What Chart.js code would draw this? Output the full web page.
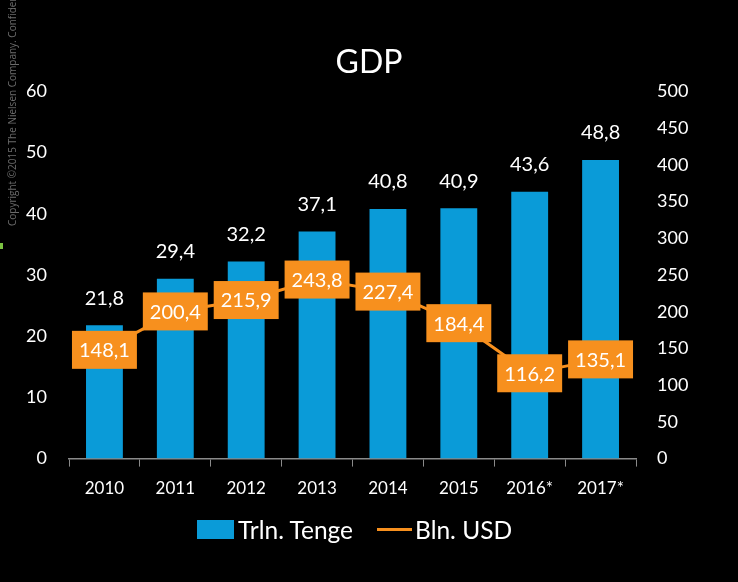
<!DOCTYPE html>
<html>
<head>
<meta charset="utf-8">
<script src="https://cdn.jsdelivr.net/npm/chart.js@4/dist/chart.umd.min.js"></script>
<style>
  html, body { margin: 0; padding: 0; background: #000; }
  #wrap { position: relative; width: 738px; height: 582px; overflow: hidden; }
  #copy {
    position: absolute; left: 12px; top: 0; width: 0; height: 0;
    font: 10px "Open Sans", sans-serif; color: #6b6b6b; white-space: nowrap;
  }
  #copy span {
    position: absolute; left: 0; top: 226px;
    transform-origin: 0 0; transform: rotate(-90deg) translateY(-7px);
  }
  #mark { position: absolute; left: 0; top: 243px; width: 3px; height: 6px; background: #7cc242; }
  #legend {
    position: absolute; top: 515px; left: 197px;
    display: flex; align-items: center; white-space: nowrap;
    font: 24.5px Lato, sans-serif; color: #fff;
  }
  .sw { display: inline-block; }
</style>
</head>
<body>
<div id="wrap">
  <canvas id="gdpChart" width="738" height="582"></canvas>
  <div id="copy"><span>Copyright ©2015 The Nielsen Company. Confidential and proprietary.</span></div>
  <div id="mark"></div>
  <div id="legend">
    <span class="sw" style="width:37px;height:19px;background:#0a9bd8;margin-right:4px"></span>Trln. Tenge
    <span class="sw" style="width:35px;height:3px;background:#f7901e;margin:0 3px 0 24px"></span>Bln. USD
  </div>
</div>

<script>
const years = ["2010", "2011", "2012", "2013", "2014", "2015", "2016*", "2017*"];
const tenge = [21.8, 29.4, 32.2, 37.1, 40.8, 40.9, 43.6, 48.8];
const usd = [148.1, 200.4, 215.9, 243.8, 227.4, 184.4, 116.2, 135.1];

const BLUE = "#0a9bd8";
const ORANGE = "#f7901e";
const FONT = "Lato, sans-serif";

const fmt = (v) => v.toFixed(1).replace(".", ",");

// value labels: white above bars, orange boxes on the line
const valueLabels = {
  id: "valueLabels",
  afterDatasetsDraw(chart) {
    const ctx = chart.ctx;
    ctx.save();
    ctx.textAlign = "center";
    ctx.textBaseline = "middle";

    ctx.font = `20px ${FONT}`;
    ctx.fillStyle = "#fff";
    chart.getDatasetMeta(1).data.forEach((bar, i) => {
      ctx.fillText(fmt(tenge[i]), bar.x, bar.y - 27);
    });

    ctx.font = `20px ${FONT}`;
    chart.getDatasetMeta(0).data.forEach((pt, i) => {
      const txt = fmt(usd[i]);
      const w = ctx.measureText(txt).width + 14;
      const h = 38;
      ctx.fillStyle = ORANGE;
      ctx.fillRect(pt.x - w / 2, pt.y - h / 2, w, h);
      ctx.fillStyle = "#fff";
      ctx.fillText(txt, pt.x, pt.y + 1);
    });
    ctx.restore();
  },
};

new Chart(document.getElementById("gdpChart"), {
  data: {
    labels: years,
    datasets: [
      {
        type: "line",
        label: "Bln. USD",
        data: usd,
        yAxisID: "y1",
        borderColor: ORANGE,
        backgroundColor: ORANGE,
        borderWidth: 3,
        pointRadius: 0,
        tension: 0,
        order: 0,
      },
      {
        type: "bar",
        label: "Trln. Tenge",
        data: tenge,
        yAxisID: "y",
        backgroundColor: BLUE,
        categoryPercentage: 1,
        barPercentage: 0.52,
        order: 1,
      },
    ],
  },
  options: {
    responsive: false,
    animation: false,
    layout: { padding: { top: 0, left: 0, right: 0, bottom: 71 } },
    plugins: {
      legend: { display: false },
      tooltip: { enabled: false },
      title: {
        display: true,
        text: "GDP",
        color: "#fff",
        font: { family: FONT, size: 32, weight: "normal" },
        padding: { top: 43, bottom: 10 },
      },
    },
    scales: {
      x: {
        grid: {
          display: true,
          drawOnChartArea: false,
          drawTicks: true,
          tickLength: 8,
          color: "#8a8a8a",
          offset: true,
        },
        border: { display: true, color: "#8a8a8a", width: 1.5 },
        ticks: { color: "#fff", font: { family: FONT, size: 17 }, padding: 12 },
      },
      y: {
        position: "left",
        min: 0,
        max: 60,
        grid: { display: false },
        border: { display: false },
        ticks: { stepSize: 10, color: "#fff", font: { family: FONT, size: 18 }, padding: 14 },
        afterFit: (s) => { s.width = 69; },
      },
      y1: {
        position: "right",
        min: 0,
        max: 500,
        grid: { display: false },
        border: { display: false },
        ticks: { stepSize: 50, color: "#fff", font: { family: FONT, size: 18 }, padding: 13 },
        afterFit: (s) => { s.width = 102; },
      },
    },
  },
  plugins: [valueLabels],
});
</script>
</body>
</html>
